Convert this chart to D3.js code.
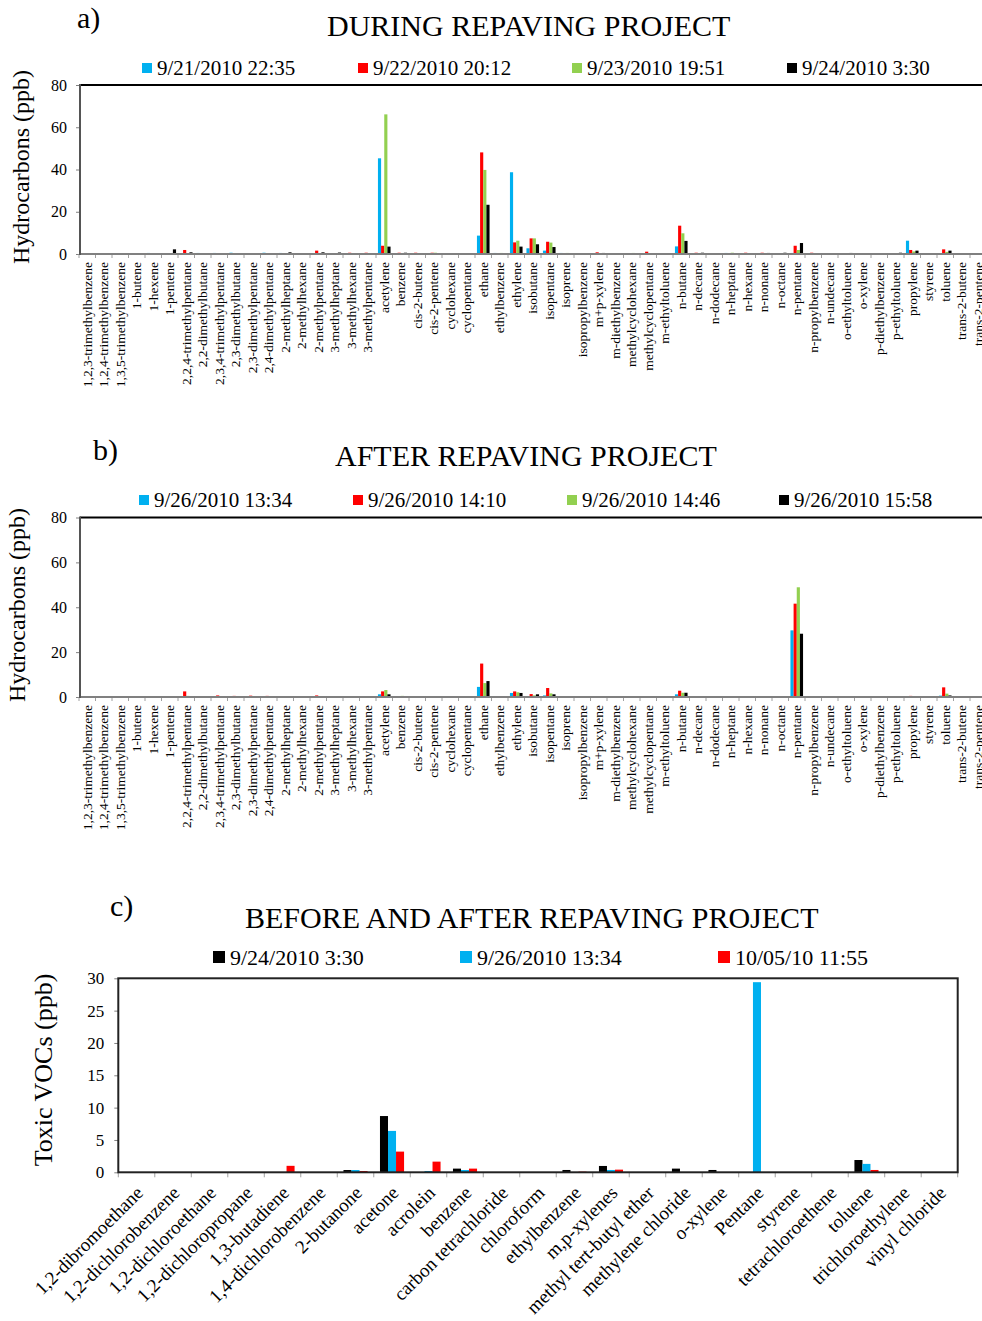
<!DOCTYPE html>
<html><head><meta charset="utf-8">
<script src="https://cdn.jsdelivr.net/npm/d3@7"></script>
<style>
body{margin:0;background:#fff}
svg{display:block}
text{font-family:"Liberation Serif","Times New Roman",serif;fill:#000}
</style>
</head><body><svg id="chart" width="982" height="1321"></svg>
<script>
// ---------- DATA ----------
const hcCategories = ["1,2,3-trimethylbenzene","1,2,4-trimethylbenzene","1,3,5-trimethylbenzene","1-butene","1-hexene","1-pentene",
"2,2,4-trimethylpentane","2,2-dimethylbutane","2,3,4-trimethylpentane","2,3-dimethylbutane","2,3-dimethylpentane","2,4-dimethylpentane",
"2-methylheptane","2-methylhexane","2-methylpentane","3-methylheptane","3-methylhexane","3-methylpentane","acetylene","benzene",
"cis-2-butene","cis-2-pentene","cyclohexane","cyclopentane","ethane","ethylbenzene","ethylene","isobutane","isopentane","isoprene",
"isopropylbenzene","m+p-xylene","m-diethylbenzene","methylcyclohexane","methylcyclopentane","m-ethyltoluene","n-butane","n-decane",
"n-dodecane","n-heptane","n-hexane","n-nonane","n-octane","n-pentane","n-propylbenzene","n-undecane","o-ethyltoluene","o-xylene",
"p-diethylbenzene","p-ethyltoluene","propylene","styrene","toluene","trans-2-butene","trans-2-pentene"];

const duringNames = ["9/21/2010 22:35","9/22/2010 20:12","9/23/2010 19:51","9/24/2010 3:30"];
const during0921 = [0.3,0,0.3,0,0.5,0, 0,0.5,0.5,0.6,0,0.6, 0.5,0,0,0,0,0, 45.3,0.4,0.3,0,0.4,0, 8.7,0.5,38.7,2.7,1.6,0.5, 0,0,0,0.3,0,0, 3.6,0,0,0.5,0,0, 0.3,0.5,0,0,0,0, 0,0.4,6.3,0.4,0,0.4,0.4];
const during0922 = [0,0,0,0,0,0.2, 1.9,0,0,0,0.2,0.2, 0,0,1.6,0,0.6,0.6, 3.9,0.6,0.6,0.6,0,0.3, 48.1,0,5.5,7.4,5.8,0, 0.3,0.8,0.3,0,1.1,0, 13.4,0.6,0,0,0.6,0.6, 0,3.9,0.6,0,0.4,0.2, 0.2,0,1.9,0.4,2.2,0,0.3];
const during0923 = [0.3,0,0.3,0,0.3,0, 0,0,0,0,0,0, 0,0,0,0,0,0, 66.1,0,0,0.6,0,0, 39.8,0.5,6.3,7.4,5.4,0.5, 0,0,0,0.5,0,0, 9.8,0,0,0.6,0,0, 0,1.9,0,0,0,0, 0,0,1.2,0.4,1.0,0,0.3];
const during0924 = [0,0.2,0,0,0,2.2, 0.8,0,0,0,0,0.3, 0.8,0,0.8,0.7,0,0, 3.5,0.6,0,0,0,0, 23.3,0,3.5,4.6,3.3,0, 0,0.5,0,0,0,0, 6.2,0.6,0,0,0.3,0.5, 0.6,5.2,0,0,0.5,0, 0,0.6,1.6,0,1.6,0,0.3];

const afterNames = ["9/26/2010 13:34","9/26/2010 14:10","9/26/2010 14:46","9/26/2010 15:58"];
const after1334 = [0,0,0,0,0,0, 0,0,0,0,0,0, 0,0,0,0,0,0, 1.2,0,0,0,0,0, 4.5,0,1.8,0.3,0.7,0, 0,0,0,0,0,0, 1.2,0,0,0,0,0, 0,29.7,0,0,0,0, 0,0,0.3,0,0.6,0,0];
const after1410 = [0,0,0,0,0,0, 2.5,0.3,0.7,0.5,0.6,0.5, 0,0,0.7,0,0.3,0.4, 2.5,0.4,0,0,0,0, 14.9,0,2.5,1.3,4.0,0.3, 0,0.3,0,0,0.3,0, 2.8,0,0,0,0.3,0, 0,41.6,0,0,0,0, 0,0,0.5,0,4.3,0,0];
const after1446 = [0,0,0,0,0,0, 0.5,0,0,0,0,0, 0,0,0,0,0.3,0, 3.1,0.5,0,0,0,0, 6.2,0,2.1,0.7,1.6,0.3, 0,0,0,0,0,0, 1.9,0,0,0,0,0, 0,48.9,0,0,0,0, 0,0,0.3,0,1.5,0,0];
const after1558 = [0,0,0,0,0,0, 0.3,0,0,0,0,0, 0,0,0.3,0,0,0, 1.2,0.3,0,0,0,0, 7.1,0,1.8,1.2,1.2,0.3, 0,0,0,0,0,0, 1.9,0,0,0,0,0, 0,28.2,0,0,0,0, 0,0,0.2,0,0.7,0,0];

const hcTicks = [0,20,40,60,80];

const toxicCategories = ["1,2-dibromoethane","1,2-dichlorobenzene","1,2-dichloroethane","1,2-dichloropropane","1,3-butadiene",
"1,4-dichlorobenzene","2-butanone","acetone","acrolein","benzene","carbon tetrachloride","chloroform","ethylbenzene","m,p-xylenes",
"methyl tert-butyl ether","methylene chloride","o-xylene","Pentane","styrene","tetrachloroethene","toluene","trichloroethylene","vinyl chloride"];
const toxicNames = ["9/24/2010 3:30","9/26/2010 13:34","10/05/10 11:55"];
const toxic0924 = [0,0,0,0,0,0,0.35,8.7,0,0.57,0,0,0.36,0.98,0,0.57,0.36,0,0,0,1.9,0,0];
const toxic0926 = [0,0,0,0,0,0,0.35,6.4,0.2,0.35,0,0,0,0.36,0,0,0,29.4,0,0,1.3,0,0];
const toxic1005 = [0,0,0,0,1.0,0,0.2,3.2,1.65,0.57,0,0,0.1,0.41,0,0,0,0,0,0,0.36,0,0];
const toxicTicks = [0,5,10,15,20,25,30];

// ---------- DRAWING ----------
const BLUE="#00B0F0", RED="#FF0000", GREEN="#92D050", BLACK="#000000";
const svg = d3.select("#chart");

function panel(o){
  const g = svg.append("g");
  const x = d3.scaleBand().domain(o.cats).range([o.x0,o.x1]).paddingInner(o.pad).paddingOuter(o.pad/2);
  const xi = d3.scaleBand().domain(d3.range(o.series.length)).range([0,x.bandwidth()]);
  const y = d3.scaleLinear().domain([0,o.yMax]).range([o.yZero,o.yTop]);
  const step = x.step();

  // bars
  o.series.forEach((s,si)=>{
    g.append("g").selectAll("rect").data(s.values).join("rect")
      .attr("x",(d,i)=>x(o.cats[i])+xi(si))
      .attr("width",xi.bandwidth())
      .attr("y",d=>y(d))
      .attr("height",d=>y(0)-y(d))
      .attr("fill",s.color);
  });

  // y axis
  const ya = d3.axisLeft(y).tickValues(o.ticks).tickSize(o.tickLen).tickPadding(o.tickPad).tickSizeOuter(0);
  const yg = g.append("g").attr("transform",`translate(${o.axisX},0)`).call(ya);
  yg.attr("font-family",null);
  yg.select(".domain").remove();
  yg.selectAll(".tick line").attr("stroke","#808080");
  yg.selectAll(".tick text").style("font-family",'"Liberation Serif",serif').style("font-size",o.tickFont+"px").attr("fill","#000");

  // x ticks at category boundaries
  g.append("g").selectAll("line").data(d3.range(o.cats.length+1)).join("line")
    .attr("x1",i=>o.x0+i*step).attr("x2",i=>o.x0+i*step)
    .attr("y1",y(0)).attr("y2",y(0)+o.xTickLen)
    .attr("stroke","#a0a0a0").attr("stroke-width",1);

  // frame
  if(o.box){
    g.append("rect").attr("x",o.axisX).attr("y",y(o.yMax)).attr("width",o.x1-o.axisX).attr("height",y(0)-y(o.yMax))
      .attr("fill","none").attr("stroke","#222").attr("stroke-width",2);
  } else {
    g.append("line").attr("x1",o.axisX).attr("x2",982).attr("y1",y(o.yMax)).attr("y2",y(o.yMax)).attr("stroke","#000").attr("stroke-width",2);
    g.append("line").attr("x1",o.axisX).attr("x2",982).attr("y1",y(0)).attr("y2",y(0)).attr("stroke","#808080").attr("stroke-width",2);
    g.append("line").attr("x1",o.axisX).attr("x2",o.axisX).attr("y1",y(o.yMax)-1).attr("y2",y(0)+1).attr("stroke","#555").attr("stroke-width",2);
  }

  // x labels
  g.append("g").selectAll("text").data(o.cats).join("text")
    .text(d=>d).attr("text-anchor","end").style("font-size",o.labFont+"px").attr("dy","0.35em")
    .attr("transform",d=>`translate(${x(d)+x.bandwidth()/2+o.labDx},${y(0)+o.labDy}) rotate(${o.rot})`);

  // y label
  g.append("text").text(o.ylab).attr("text-anchor","middle")
    .attr("transform",`translate(${o.ylabX},${o.ylabY}) rotate(-90)`).style("font-size",o.ylabFont+"px");

  // title and letter
  g.append("text").text(o.title).attr("x",o.titleX).attr("y",o.titleY).style("font-size",o.titleFont+"px");
  g.append("text").text(o.letter).attr("x",o.letterX).attr("y",o.letterY).style("font-size",o.titleFont+"px");

  // legend
  o.series.forEach((s,si)=>{
    const lx=o.legX[si];
    g.append("rect").attr("x",lx).attr("y",o.legY-o.legSq/2).attr("width",o.legSq).attr("height",o.legSq).attr("fill",s.color);
    g.append("text").text(s.name).attr("x",lx+o.legSq+o.legGap).attr("y",o.legY).attr("dy","0.35em").style("font-size",o.legFont+"px");
  });
}

panel({
  cats:hcCategories,
  series:[{name:duringNames[0],values:during0921,color:BLUE},{name:duringNames[1],values:during0922,color:RED},
          {name:duringNames[2],values:during0923,color:GREEN},{name:duringNames[3],values:during0924,color:BLACK}],
  x0:79,x1:986.5,pad:0.236,yTop:85,yZero:254,yMax:80,ticks:hcTicks,axisX:80,tickLen:4,tickPad:9,tickFont:16,xTickLen:4,
  labFont:13.5,rot:-90,labDx:0,labDy:8,
  ylab:"Hydrocarbons (ppb)",ylabX:29,ylabY:167,ylabFont:24,
  title:"DURING REPAVING PROJECT",titleX:327,titleY:36,titleFont:30,letter:"a)",letterX:77,letterY:28,
  legX:[142,358,572,787],legY:68,legSq:10,legGap:5,legFont:21
});

panel({
  cats:hcCategories,
  series:[{name:afterNames[0],values:after1334,color:BLUE},{name:afterNames[1],values:after1410,color:RED},
          {name:afterNames[2],values:after1446,color:GREEN},{name:afterNames[3],values:after1558,color:BLACK}],
  x0:79,x1:986.5,pad:0.236,yTop:517.5,yZero:697,yMax:80,ticks:hcTicks,axisX:80,tickLen:4,tickPad:9,tickFont:16,xTickLen:4,
  labFont:13.5,rot:-90,labDx:0,labDy:8,
  ylab:"Hydrocarbons (ppb)",ylabX:25,ylabY:605,ylabFont:24,
  title:"AFTER REPAVING PROJECT",titleX:335,titleY:466,titleFont:30,letter:"b)",letterX:93,letterY:460,
  legX:[139,353,567,779],legY:500,legSq:10,legGap:5,legFont:21
});

panel({
  cats:toxicCategories,
  series:[{name:toxicNames[0],values:toxic0924,color:BLACK},{name:toxicNames[1],values:toxic0926,color:BLUE},
          {name:toxicNames[2],values:toxic1005,color:RED}],
  x0:118.3,x1:957.7,pad:0.34,yTop:978.3,yZero:1172.3,yMax:30,ticks:toxicTicks,axisX:118.3,tickLen:4,tickPad:10,tickFont:17,xTickLen:5,
  labFont:19,rot:-45,labDx:3,labDy:17,box:true,
  ylab:"Toxic VOCs (ppb)",ylabX:52,ylabY:1070,ylabFont:26,
  title:"BEFORE AND AFTER REPAVING PROJECT",titleX:245,titleY:928,titleFont:30,letter:"c)",letterX:110,letterY:916,
  legX:[213,460,718],legY:957,legSq:12,legGap:5,legFont:22
});
</script>
</body></html>
